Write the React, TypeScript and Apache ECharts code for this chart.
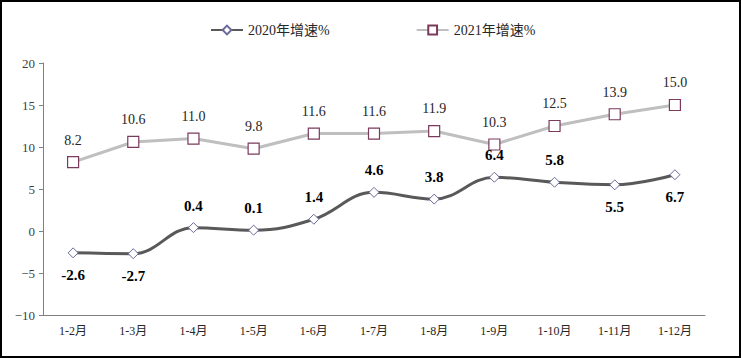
import React, { useEffect, useRef } from "react";
import * as echarts from "echarts";

const categories = ["1-2月", "1-3月", "1-4月", "1-5月", "1-6月", "1-7月", "1-8月", "1-9月", "1-10月", "1-11月", "1-12月"];
const growth2020 = [-2.6, -2.7, 0.4, 0.1, 1.4, 4.6, 3.8, 6.4, 5.8, 5.5, 6.7];
const growth2021 = [8.2, 10.6, 11.0, 9.8, 11.6, 11.6, 11.9, 10.3, 12.5, 13.9, 15.0];
const labelBelow2020 = [true, true, false, false, false, false, false, false, false, true, true];

const FONT = "'Liberation Serif', 'Noto Sans CJK SC', serif";

export default function App() {
  const ref = useRef<HTMLDivElement>(null);
  useEffect(() => {
    document.body.style.margin = "0";
    const chart = echarts.init(ref.current!, null, { renderer: "svg" });
    chart.setOption({
      animation: false,
      textStyle: { fontFamily: FONT },
      legend: {
        top: 18,
        left: 205,
        itemWidth: 32,
        itemHeight: 11,
        itemGap: 86,
        textStyle: { fontFamily: FONT, fontSize: 14, color: "#262626" },
        data: ["2020年增速%", "2021年增速%"],
      },
      grid: { left: 43, right: 36, top: 63, bottom: 43 },
      xAxis: {
        type: "category",
        data: categories,
        boundaryGap: true,
        axisLine: { onZero: false, lineStyle: { color: "#808080", width: 1 } },
        axisTick: { show: false },
        axisLabel: { color: "#262626", fontFamily: FONT, fontSize: 12, margin: 10 },
      },
      yAxis: {
        type: "value",
        min: -10,
        max: 20,
        interval: 5,
        axisLine: { show: true, lineStyle: { color: "#808080", width: 1 } },
        axisTick: { show: true, length: 4, lineStyle: { color: "#808080" } },
        splitLine: { show: false },
        axisLabel: {
          color: "#404040",
          fontFamily: FONT,
          fontSize: 13,
          margin: 8,
          formatter: (v: number) => (v < 0 ? "\u2212" + Math.abs(v) : String(v)),
        },
      },
      series: [
        {
          name: "2020年增速%",
          type: "line",
          smooth: 0.4,
          data: growth2020.map((v, i) => ({
            value: v,
            label: { position: labelBelow2020[i] ? "bottom" : "top" },
          })),
          symbol: "diamond",
          symbolSize: 10,
          lineStyle: { color: "#595959", width: 3 },
          itemStyle: { color: "#ffffff", borderColor: "#6a6a9a", borderWidth: 1 },
          label: {
            show: true,
            distance: 9,
            color: "#000000",
            fontFamily: FONT,
            fontSize: 15,
            fontWeight: "bold",
            formatter: (p: any) => p.value.toFixed(1),
          },
          z: 3,
        },
        {
          name: "2021年增速%",
          type: "line",
          smooth: false,
          data: growth2021,
          symbol: "rect",
          symbolSize: 11,
          lineStyle: { color: "#bfbfbf", width: 3 },
          itemStyle: { color: "#ffffff", borderColor: "#7a3a5c", borderWidth: 1.2 },
          label: {
            show: true,
            position: "top",
            distance: 9,
            color: "#262626",
            fontFamily: FONT,
            fontSize: 14,
            formatter: (p: any) => Number(p.value).toFixed(1),
          },
          z: 2,
        },
      ],
    });
    return () => chart.dispose();
  }, []);
  return (
    <div
      style={{
        position: "absolute",
        left: 0,
        top: 0,
        width: 741,
        height: 358,
        boxSizing: "border-box",
        border: "2px solid #000",
        background: "#fff",
      }}
    >
      <div ref={ref} style={{ position: "absolute", left: -2, top: -2, width: 741, height: 358 }} />
    </div>
  );
}
